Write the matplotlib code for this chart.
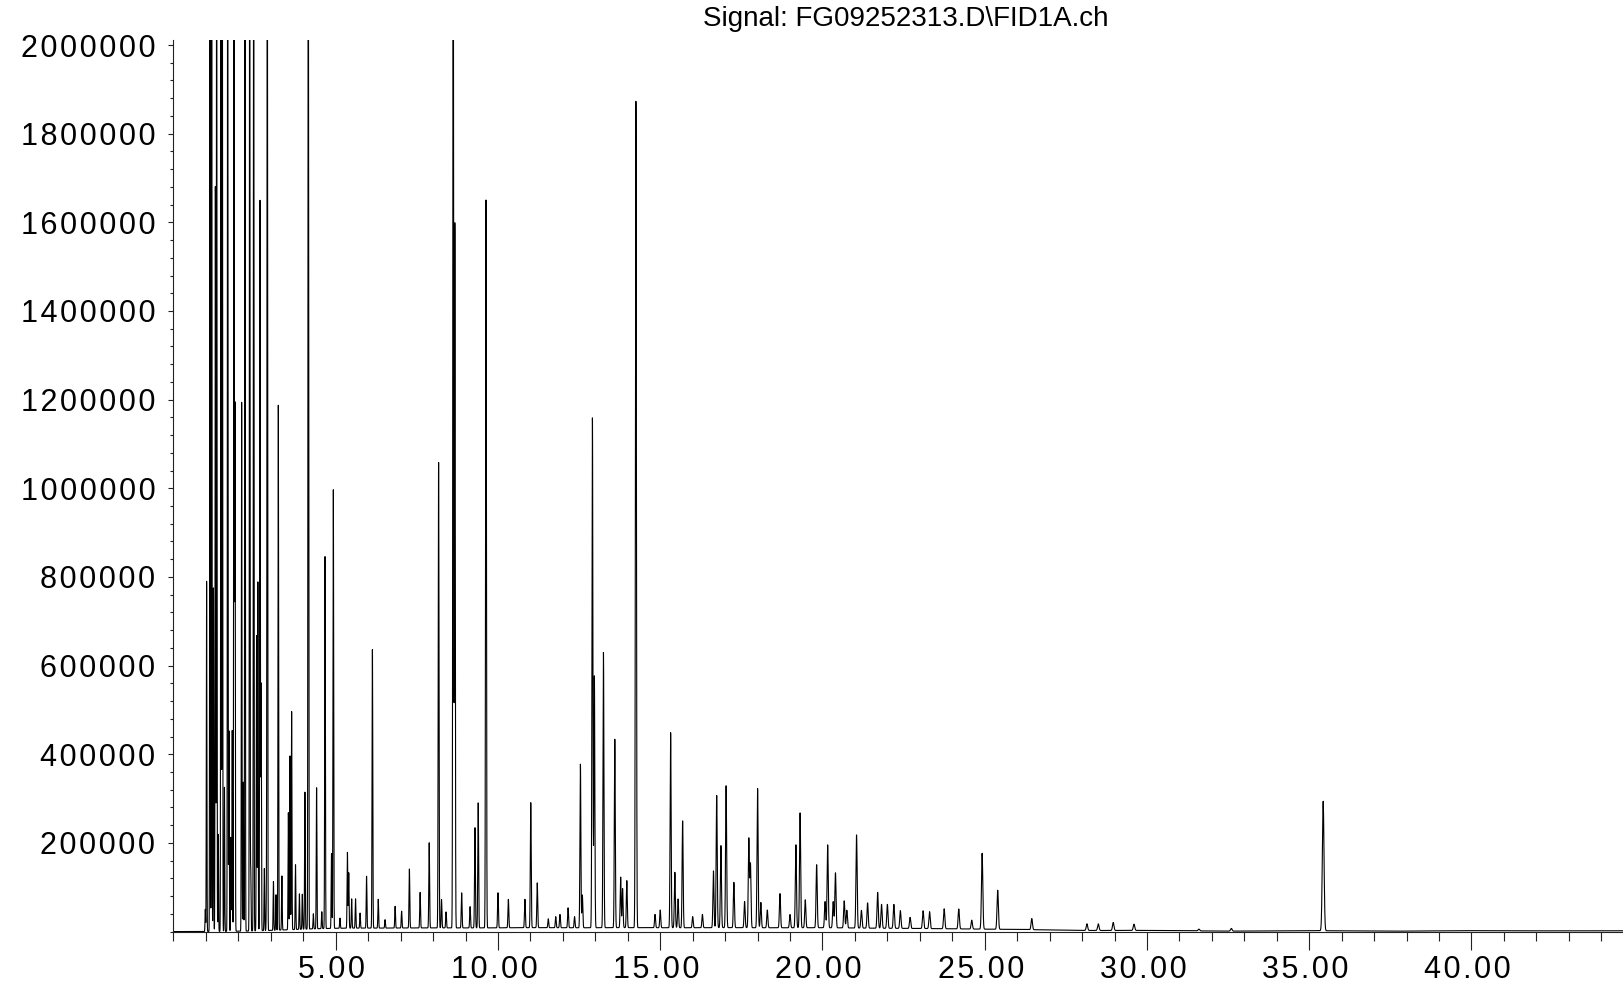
import numpy as np
import matplotlib
matplotlib.use("Agg")
import matplotlib.pyplot as plt
from matplotlib.ticker import FixedLocator, MultipleLocator
from matplotlib.transforms import ScaledTranslation

plt.rcParams['font.family'] = ['Liberation Sans', 'DejaVu Sans']

title = "Signal: FG09252313.D\\FID1A.ch"

# retention time (min) and apex height of each peak.
# peaks that run off the top (> 2000000) just get 2500000
peak_rt = [0.98, 1.02, 1.125, 1.177, 1.23, 1.29, 1.33, 1.38, 1.464, 1.504,
           1.57, 1.67, 1.71, 1.77, 1.81, 1.864, 1.895, 2.10, 2.15, 2.203,
           2.348, 2.38, 2.471, 2.56, 2.60, 2.666, 2.70, 2.80, 2.87, 2.891,
           3.08, 3.16, 3.23, 3.34, 3.54, 3.59, 3.64, 3.76, 3.88, 3.97,
           4.05, 4.154, 4.31, 4.41, 4.57, 4.67, 4.87, 4.925, 5.13, 5.36,
           5.40, 5.49, 5.61, 5.75, 5.95, 6.13, 6.31, 6.52, 6.83, 7.03,
           7.27, 7.60, 7.88, 8.17, 8.26, 8.40, 8.62, 8.67, 8.88, 9.14,
           9.29, 9.39, 9.63, 10.00, 10.32, 10.83, 11.01, 11.21, 11.55, 11.78,
           11.91, 12.16, 12.36, 12.54, 12.60, 12.91, 12.97, 13.25, 13.60, 13.78,
           13.84, 13.97, 14.25, 14.84, 15.00, 15.32, 15.45, 15.55, 15.69, 16.00,
           16.30, 16.64, 16.74, 16.87, 17.03, 17.27, 17.60, 17.73, 17.78, 18.00,
           18.10, 18.30, 18.69, 19.00, 19.18, 19.31, 19.47, 19.82, 20.08, 20.16,
           20.33, 20.40, 20.67, 20.75, 21.05, 21.20, 21.39, 21.70, 21.82, 22.00,
           22.20, 22.40, 22.70, 23.10, 23.30, 23.75, 24.20, 24.60, 24.92, 25.40,
           26.45, 28.15, 28.50, 28.96, 29.60, 31.60, 32.60, 35.43]
peak_height = [50000, 790000, 2500000, 2500000, 775000, 1680000, 2500000, 219000, 2500000, 2500000,
               325000, 2500000, 452000, 212000, 453000, 2500000, 1193000, 1193000, 336000, 2500000,
               2500000, 140000, 2500000, 666000, 787000, 1647000, 557000, 140000, 147000, 2500000,
               110000, 80000, 1184000, 122000, 264000, 392000, 492000, 146000, 80000, 79000,
               309000, 2500000, 34000, 318000, 38000, 839000, 169000, 994000, 23000, 171000,
               125000, 66000, 66000, 34000, 117000, 628000, 65000, 19000, 49000, 38000,
               133000, 80000, 192000, 1050000, 64000, 36000, 2500000, 1590000, 79000, 48000,
               226000, 282000, 1642000, 79000, 64000, 64000, 282000, 101000, 20000, 25000,
               30000, 45000, 25000, 369000, 74000, 1150000, 568000, 621000, 425000, 114000,
               88000, 106000, 1864000, 30000, 40000, 440000, 125000, 65000, 241000, 25000,
               30000, 128000, 298000, 185000, 320000, 102000, 59000, 201000, 144000, 314000,
               57000, 40000, 77000, 30000, 187000, 259000, 63000, 142000, 59000, 187000,
               59000, 124000, 61000, 40000, 210000, 40000, 57000, 81000, 54000, 54000,
               54000, 40000, 25000, 40000, 38000, 45000, 45000, 20000, 171000, 88000,
               25000, 15000, 15000, 18000, 14000, 4000, 6000, 292000]

# slow hump of the baseline under the peaks
bump_rt = [5, 8, 11, 14, 17, 20, 23, 26, 30, 35, 40, 44]
bump_height = [6500, 6500, 7000, 7000, 7000, 7000, 5500, 4000, 2500, 2000, 2000, 2000]

x_ticks = [5, 10, 15, 20, 25, 30, 35, 40]
y_ticks = [200000, 400000, 600000, 800000, 1000000, 1200000, 1400000,
           1600000, 1800000, 2000000]

t = np.arange(0, 44.7, 0.002)
signal = np.zeros_like(t)
for rt, h in zip(peak_rt, peak_height):
    # later peaks come out a bit wider
    w = 0.008 + 0.0005 * rt
    signal += h * np.exp(-0.5 * ((t - rt) / w) ** 2)
for rt, h in zip(bump_rt, bump_height):
    signal += h * np.exp(-0.5 * ((t - rt) / 1.5) ** 2)

fig = plt.figure(figsize=(16.23, 9.83), dpi=100)
ax = fig.add_axes([0.1069, 0.0523, 0.8931, 0.907])

ax.plot(t, signal, color='black', lw=0.8)

ax.set_xlim(0, 44.67)
ax.set_ylim(0, 2011300)

for s in ['top', 'right']:
    ax.spines[s].set_visible(False)
for s in ['left', 'bottom']:
    ax.spines[s].set_linewidth(0.8)
    ax.spines[s].set_color('#222222')

hair = '\u200a'
ax.xaxis.set_major_locator(FixedLocator(x_ticks))
ax.xaxis.set_minor_locator(MultipleLocator(1))
ax.set_xticklabels([hair.join(f"{v:.2f}") for v in x_ticks])
ax.yaxis.set_major_locator(FixedLocator(y_ticks))
ax.yaxis.set_minor_locator(MultipleLocator(40000))
ax.set_yticklabels([hair.join(f"{v:d}") for v in y_ticks])

ax.tick_params(axis='x', which='major', length=13, width=0.8, labelsize=22, pad=4, color='#222222')
ax.tick_params(axis='x', which='minor', length=6.5, width=0.8, color='#222222')
ax.tick_params(axis='y', which='major', length=3.6, width=0.8, labelsize=22, pad=9.4, color='#222222')
ax.tick_params(axis='y', which='minor', length=2.2, width=0.8, color='#222222')

shift = ScaledTranslation(-4 / 100, 0, fig.dpi_scale_trans)
for lab in ax.get_xticklabels():
    lab.set_transform(lab.get_transform() + shift)

fig.text(906 / 1623, 1 - 26 / 983, title, ha='center', va='baseline', fontsize=20)

fig.savefig('out.png', dpi=100)
